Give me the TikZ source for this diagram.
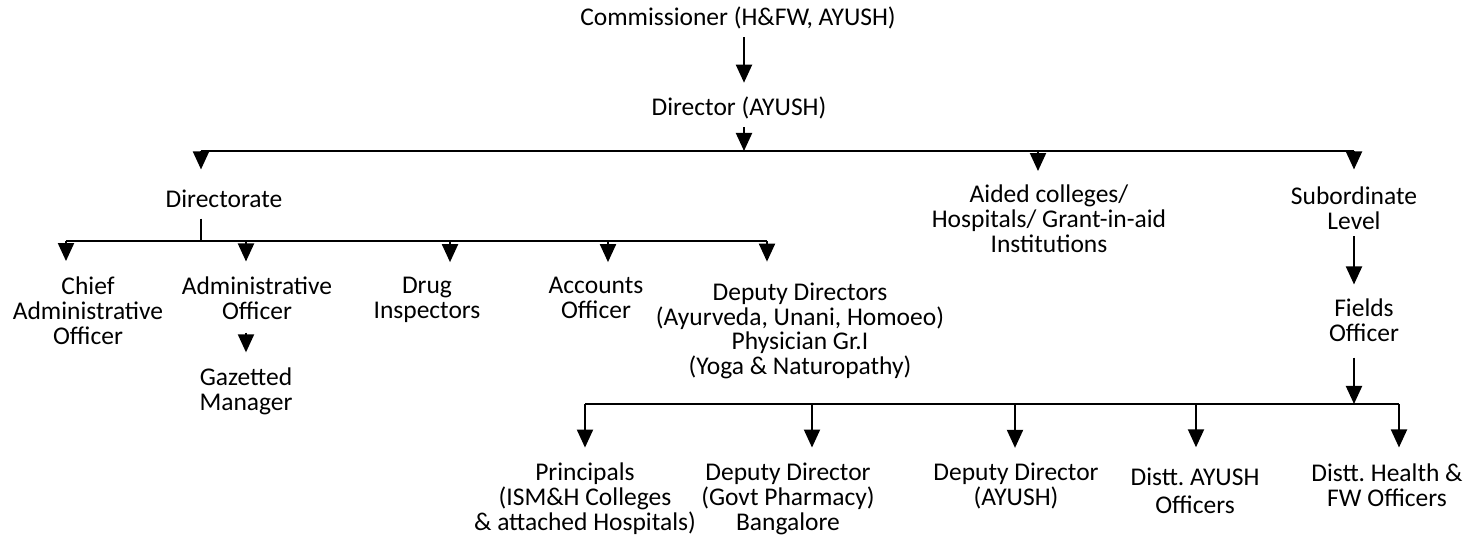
\documentclass[tikz,border=0pt]{standalone}
\usepackage{fontspec}
\setmainfont{Carlito}
\usetikzlibrary{arrows.meta}
\frenchspacing
\begin{document}
\begin{tikzpicture}[x=1pt,y=-1pt,
  lab/.style={align=center, inner sep=0pt, font=\fontsize{25.5}{24.8}\selectfont},
  ln/.style={line width=2pt},
  arr/.style={ln, -{Triangle[length=18pt,width=16pt]}}]
\useasboundingbox (0,0) rectangle (1468,537);
% nodes
\node[lab] (comm) at (738,18) {Commissioner (H\&FW, AYUSH)};
\node[lab] (dir) at (739,108) {Director (AYUSH)};
\node[lab] (dte) at (224,199) {Directorate};
\node[lab] (aided) at (1049,219) {Aided colleges/\\Hospitals/ Grant-in-aid\\Institutions};
\node[lab] (sub) at (1354,208) {Subordinate\\Level};
\node[lab] (chief) at (88,311) {Chief\\Administrative\\Officer};
\node[lab] (admin) at (257,298) {Administrative\\Officer};
\node[lab] (gaz) at (246,391) {Gazetted\\Manager};
\node[lab] (drug) at (427,300) {Drug\\Inspectors};
\node[lab] (acc) at (596,298) {Accounts\\Officer};
\node[lab] (dd) at (800,331) {Deputy Directors\\(Ayurveda, Unani, Homoeo)\\Physician Gr.I\\(Yoga \& Naturopathy)};
\node[lab] (fields) at (1364,320) {Fields\\Officer};
\node[lab] (princ) at (585,499) {Principals\\(ISM\&H Colleges\\\& attached Hospitals)};
\node[lab] (ddgp) at (788,499) {Deputy Director\\(Govt Pharmacy)\\Bangalore};
\node[lab] (ddayush) at (1016,486) {Deputy Director\\(AYUSH)};
\node[lab] (distay) at (1195,490.5) {Distt. AYUSH\\[3.5pt]Officers};
\node[lab] (disth) at (1387,485) {Distt. Health \&\\FW Officers};
% bus coordinates
\coordinate (b1) at (744,151);
\coordinate (b1l) at (201,151);
\coordinate (b1a) at (1038,151);
\coordinate (b1r) at (1354,151);
\coordinate (b2s) at (201,241);
\coordinate (b2l) at (66,241);
\coordinate (b2b) at (246,241);
\coordinate (b2c) at (450,241);
\coordinate (b2d) at (608,241);
\coordinate (b2r) at (767,241);
\coordinate (b3f) at (1354,404);
\coordinate (b3l) at (585,404);
\coordinate (b3b) at (812,404);
\coordinate (b3c) at (1015,404);
\coordinate (b3d) at (1196,404);
\coordinate (b3r) at (1399,404);
% top level
\draw[arr, shorten <=8pt, shorten >=14pt] (comm.south -| b1) -- (dir.north -| b1);
\draw[arr, shorten <=8pt] (dir.south -| b1) -- (b1);
\draw[ln] (b1l) -- (b1r);
\draw[arr, shorten >=20.5pt] (b1l) -- (b1l |- dte.north);
\draw[arr, shorten >=14pt] (b1a) -- (b1a |- aided.north);
\draw[arr, shorten >=17pt] (b1r) -- (b1r |- sub.north);
% directorate
\draw[ln, shorten <=10.5pt] (dte.south -| b2s) -- (b2s);
\draw[ln] (b2l) -- (b2r);
\draw[arr, shorten >=16pt] (b2l) -- (b2l |- chief.north);
\draw[arr, shorten >=15pt] (b2b) -- (b2b |- admin.north);
\draw[arr, shorten >=15pt] (b2c) -- (b2c |- drug.north);
\draw[arr, shorten >=15pt] (b2d) -- (b2d |- acc.north);
\draw[arr, shorten >=21pt] (b2r) -- (b2r |- dd.north);
\draw[arr, shorten <=13pt, shorten >=15pt] (admin.south -| b2b) -- (gaz.north -| b2b);
% subordinate
\draw[arr, shorten <=6.5pt, shorten >=14pt] (sub.south) -- (sub.south |- fields.north);
\draw[arr, shorten <=16pt] (fields.south -| b3f) -- (b3f);
\draw[ln] (b3l) -- (b3r);
\draw[arr, shorten >=15.5pt] (b3l) -- (b3l |- princ.north);
\draw[arr, shorten >=15.5pt] (b3b) -- (b3b |- ddgp.north);
\draw[arr, shorten >=15pt] (b3c) -- (b3c |- ddayush.north);
\draw[arr, shorten >=20pt] (b3d) -- (b3d |- distay.north);
\draw[arr, shorten >=16pt] (b3r) -- (b3r |- disth.north);
\end{tikzpicture}
\end{document}
